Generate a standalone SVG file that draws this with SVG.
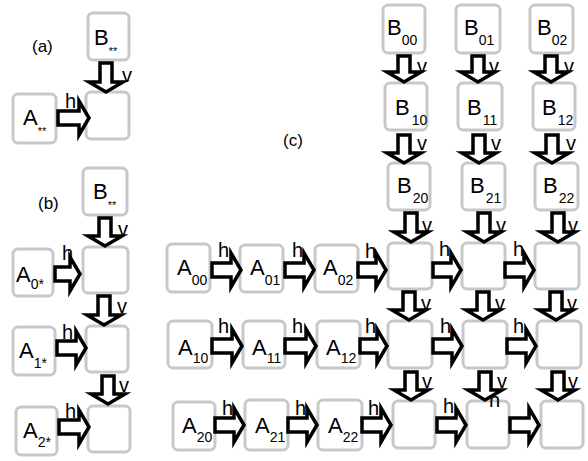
<svg xmlns="http://www.w3.org/2000/svg" width="588" height="461" viewBox="0 0 588 461">
<style>
.box{fill:#fff;stroke:#c8c8c8;stroke-width:3}
.t{font-family:"Liberation Sans",Arial,sans-serif;font-size:22px;fill:#000}
.s{font-size:14px}
.st{font-size:11px}
.lbl{font-family:"Liberation Sans",Arial,sans-serif;font-size:20px;fill:#000}
.cap{font-family:"Liberation Sans",Arial,sans-serif;font-size:17px;fill:#000}
.arr{fill:#fff;stroke:#000;stroke-width:3.5;stroke-linejoin:miter}
</style>
<rect width="588" height="461" fill="#fff"/>
<text class="cap" x="32" y="52">(a)</text>
<text class="cap" x="38" y="209">(b)</text>
<text class="cap" x="283" y="146">(c)</text>

<!-- panel a -->
<g id="a-B"><rect class="box" x="88" y="13" width="41" height="47" rx="5"/><text class="t" x="94" y="45">B<tspan class="st" dy="10">**</tspan></text></g>
<g id="a-C"><rect class="box" x="86" y="92" width="43" height="47" rx="5"/></g>
<g id="a-A"><rect class="box" x="13" y="94" width="43" height="49" rx="5"/><text class="t" x="23" y="125">A<tspan class="st" dy="10">**</tspan></text></g>

<!-- panel b -->
<g id="b-B"><rect class="box" x="83" y="168" width="44" height="47" rx="5"/><text class="t" x="93" y="199">B<tspan class="st" dy="10">**</tspan></text></g>
<g id="b-C0"><rect class="box" x="83" y="247" width="45" height="46" rx="5"/></g>
<g id="b-A0"><rect class="box" x="13" y="249" width="40" height="47" rx="5"/><text class="t" x="16" y="282">A<tspan class="s" dy="7">0*</tspan></text></g>
<g id="b-C1"><rect class="box" x="86" y="326" width="42" height="46" rx="5"/></g>
<g id="b-A1"><rect class="box" x="13" y="327" width="42" height="48" rx="5"/><text class="t" x="19" y="358">A<tspan class="s" dy="10">1*</tspan></text></g>
<g id="b-C2"><rect class="box" x="88" y="406" width="42" height="46" rx="5"/></g>
<g id="b-A2"><rect class="box" x="16" y="407" width="41" height="48" rx="5"/><text class="t" x="23" y="438">A<tspan class="s" dy="9">2*</tspan></text></g>

<!-- panel c : B -->
<g id="c-B00"><rect class="box" x="383" y="5" width="42" height="48" rx="5"/><text class="t" x="387" y="35">B<tspan class="s" dy="10">00</tspan></text></g>
<g id="c-B01"><rect class="box" x="456" y="5" width="44" height="48" rx="5"/><text class="t" x="464" y="35">B<tspan class="s" dy="10">01</tspan></text></g>
<g id="c-B02"><rect class="box" x="530" y="5" width="43" height="48" rx="5"/><text class="t" x="537" y="35">B<tspan class="s" dy="10">02</tspan></text></g>
<g id="c-B10"><rect class="box" x="385" y="83" width="42" height="47" rx="5"/><text class="t" x="395" y="115">B<tspan class="s" dx="2" dy="10">10</tspan></text></g>
<g id="c-B11"><rect class="box" x="458" y="83" width="44" height="47" rx="5"/><text class="t" x="467" y="115">B<tspan class="s" dx="1" dy="10">11</tspan></text></g>
<g id="c-B12"><rect class="box" x="533" y="83" width="42" height="47" rx="5"/><text class="t" x="542" y="115">B<tspan class="s" dx="1" dy="10">12</tspan></text></g>
<g id="c-B20"><rect class="box" x="388" y="163" width="42" height="47" rx="5"/><text class="t" x="397" y="193">B<tspan class="s" dx="1" dy="10">20</tspan></text></g>
<g id="c-B21"><rect class="box" x="462" y="163" width="43" height="47" rx="5"/><text class="t" x="470" y="193">B<tspan class="s" dx="1" dy="10">21</tspan></text></g>
<g id="c-B22"><rect class="box" x="535" y="163" width="43" height="47" rx="5"/><text class="t" x="543" y="193">B<tspan class="s" dx="1" dy="10">22</tspan></text></g>

<!-- panel c : A -->
<g id="c-A00"><rect class="box" x="167" y="244" width="43" height="48" rx="5"/><text class="t" x="177" y="275">A<tspan class="s" dy="10">00</tspan></text></g>
<g id="c-A01"><rect class="box" x="240" y="245" width="43" height="47" rx="5"/><text class="t" x="250" y="275">A<tspan class="s" dy="10">01</tspan></text></g>
<g id="c-A02"><rect class="box" x="315" y="245" width="43" height="47" rx="5"/><text class="t" x="323" y="275">A<tspan class="s" dy="10">02</tspan></text></g>
<g id="c-A10"><rect class="box" x="168" y="321" width="44" height="47" rx="5"/><text class="t" x="178" y="355">A<tspan class="s" dy="8">10</tspan></text></g>
<g id="c-A11"><rect class="box" x="243" y="321" width="42" height="47" rx="5"/><text class="t" x="252" y="355">A<tspan class="s" dy="8">11</tspan></text></g>
<g id="c-A12"><rect class="box" x="317" y="321" width="43" height="47" rx="5"/><text class="t" x="326" y="355">A<tspan class="s" dy="8">12</tspan></text></g>
<g id="c-A20"><rect class="box" x="173" y="402" width="42" height="48" rx="5"/><text class="t" x="182" y="433">A<tspan class="s" dy="9">20</tspan></text></g>
<g id="c-A21"><rect class="box" x="245" y="400" width="43" height="50" rx="5"/><text class="t" x="255" y="433">A<tspan class="s" dy="9">21</tspan></text></g>
<g id="c-A22"><rect class="box" x="318" y="400" width="44" height="50" rx="5"/><text class="t" x="328" y="433">A<tspan class="s" dy="9">22</tspan></text></g>

<!-- panel c : C -->
<g id="c-C00"><rect class="box" x="388" y="243" width="44" height="46" rx="5"/></g>
<g id="c-C01"><rect class="box" x="462" y="243" width="43" height="46" rx="5"/></g>
<g id="c-C02"><rect class="box" x="535" y="243" width="44" height="46" rx="5"/></g>
<g id="c-C10"><rect class="box" x="388" y="321" width="44" height="47" rx="5"/></g>
<g id="c-C11"><rect class="box" x="463" y="321" width="44" height="47" rx="5"/></g>
<g id="c-C12"><rect class="box" x="537" y="321" width="44" height="47" rx="5"/></g>
<g id="c-C20"><rect class="box" x="393" y="401" width="42" height="47" rx="5"/></g>
<g id="c-C21"><rect class="box" x="467" y="401" width="42" height="47" rx="5"/></g>
<g id="c-C22"><rect class="box" x="541" y="401" width="42" height="47" rx="5"/></g>

<g id="connectors">
<text class="lbl" x="489" y="407">h</text>
<!-- right arrows -->
<path class="arr" d="M58 111 H79 V101 L89 118 L79 135 V125 H58 Z"/>
<path class="arr" d="M55 267 H70 V257 L80 274 L70 291 V281 H55 Z"/>
<path class="arr" d="M57 341 H76 V331 L86 348 L76 365 V355 H57 Z"/>
<path class="arr" d="M59 420 H79 V410 L89 427 L79 444 V434 H59 Z"/>
<path class="arr" d="M212 263 H231 V253 L241 270 L231 287 V277 H212 Z"/>
<path class="arr" d="M285 263 H304 V253 L314 270 L304 287 V277 H285 Z"/>
<path class="arr" d="M358 263 H376 V253 L386 270 L376 287 V277 H358 Z"/>
<path class="arr" d="M433 263 H451 V253 L461 270 L451 287 V277 H433 Z"/>
<path class="arr" d="M505 263 H524 V253 L534 270 L524 287 V277 H505 Z"/>
<path class="arr" d="M212 339 H232 V329 L242 346 L232 363 V353 H212 Z"/>
<path class="arr" d="M285 339 H306 V329 L316 346 L306 363 V353 H285 Z"/>
<path class="arr" d="M360 339 H377 V329 L387 346 L377 363 V353 H360 Z"/>
<path class="arr" d="M433 339 H452 V329 L462 346 L452 363 V353 H433 Z"/>
<path class="arr" d="M507 339 H526 V329 L536 346 L526 363 V353 H507 Z"/>
<path class="arr" d="M215 418 H234 V408 L244 425 L234 442 V432 H215 Z"/>
<path class="arr" d="M288 418 H307 V408 L317 425 L307 442 V432 H288 Z"/>
<path class="arr" d="M362 418 H381 V408 L391 425 L381 442 V432 H362 Z"/>
<path class="arr" d="M437 418 H456 V408 L466 425 L456 442 V432 H437 Z"/>
<path class="arr" d="M510 418 H529 V408 L539 425 L529 442 V432 H510 Z"/>
<!-- down arrows -->
<path class="arr" d="M100 63 H112 V82 H123 L106 92 L89 82 H100 Z"/>
<path class="arr" d="M99 218 H111 V236 H122 L105 246 L88 236 H99 Z"/>
<path class="arr" d="M98 296 H110 V315 H121 L104 325 L87 315 H98 Z"/>
<path class="arr" d="M102 376 H114 V394 H125 L108 404 L91 394 H102 Z"/>
<path class="arr" d="M398 56 H410 V72 H421 L404 82 L387 72 H398 Z"/>
<path class="arr" d="M398 135 H410 V153 H421 L404 163 L387 153 H398 Z"/>
<path class="arr" d="M405 213 H417 V232 H428 L411 242 L394 232 H405 Z"/>
<path class="arr" d="M403 292 H415 V310 H426 L409 320 L392 310 H403 Z"/>
<path class="arr" d="M405 372 H417 V390 H428 L411 400 L394 390 H405 Z"/>
<path class="arr" d="M472 56 H484 V72 H495 L478 82 L461 72 H472 Z"/>
<path class="arr" d="M473 135 H485 V153 H496 L479 163 L462 153 H473 Z"/>
<path class="arr" d="M478 213 H490 V232 H501 L484 242 L467 232 H478 Z"/>
<path class="arr" d="M477 292 H489 V310 H500 L483 320 L466 310 H477 Z"/>
<path class="arr" d="M479 372 H491 V390 H502 L485 400 L468 390 H479 Z"/>
<path class="arr" d="M545 56 H557 V72 H568 L551 82 L534 72 H545 Z"/>
<path class="arr" d="M546 135 H558 V153 H569 L552 163 L535 153 H546 Z"/>
<path class="arr" d="M552 213 H564 V232 H575 L558 242 L541 232 H552 Z"/>
<path class="arr" d="M550 292 H562 V310 H573 L556 320 L539 310 H550 Z"/>
<path class="arr" d="M552 372 H564 V390 H575 L558 400 L541 390 H552 Z"/>
<!-- h labels -->
<text class="lbl" x="65" y="108">h</text>
<text class="lbl" x="62" y="260">h</text>
<text class="lbl" x="62" y="339">h</text>
<text class="lbl" x="65" y="418">h</text>
<text class="lbl" x="218" y="257">h</text>
<text class="lbl" x="292" y="257">h</text>
<text class="lbl" x="365" y="258">h</text>
<text class="lbl" x="439" y="256">h</text>
<text class="lbl" x="513" y="256">h</text>
<text class="lbl" x="218" y="333">h</text>
<text class="lbl" x="292" y="333">h</text>
<text class="lbl" x="365" y="333">h</text>
<text class="lbl" x="440" y="333">h</text>
<text class="lbl" x="513" y="333">h</text>
<text class="lbl" x="222" y="415">h</text>
<text class="lbl" x="295" y="415">h</text>
<text class="lbl" x="368" y="415">h</text>
<text class="lbl" x="443" y="413">h</text>
<!-- v labels -->
<text class="lbl" x="122" y="82">v</text>
<text class="lbl" x="118" y="236">v</text>
<text class="lbl" x="117" y="313">v</text>
<text class="lbl" x="119" y="392">v</text>
<text class="lbl" x="417" y="73">v</text>
<text class="lbl" x="417" y="150">v</text>
<text class="lbl" x="422" y="232">v</text>
<text class="lbl" x="421" y="310">v</text>
<text class="lbl" x="422" y="388">v</text>
<text class="lbl" x="489" y="73">v</text>
<text class="lbl" x="491" y="150">v</text>
<text class="lbl" x="496" y="232">v</text>
<text class="lbl" x="495" y="310">v</text>
<text class="lbl" x="497" y="388">v</text>
<text class="lbl" x="564" y="73">v</text>
<text class="lbl" x="566" y="150">v</text>
<text class="lbl" x="568" y="232">v</text>
<text class="lbl" x="567" y="310">v</text>
<text class="lbl" x="568" y="388">v</text>
</g>
</svg>
